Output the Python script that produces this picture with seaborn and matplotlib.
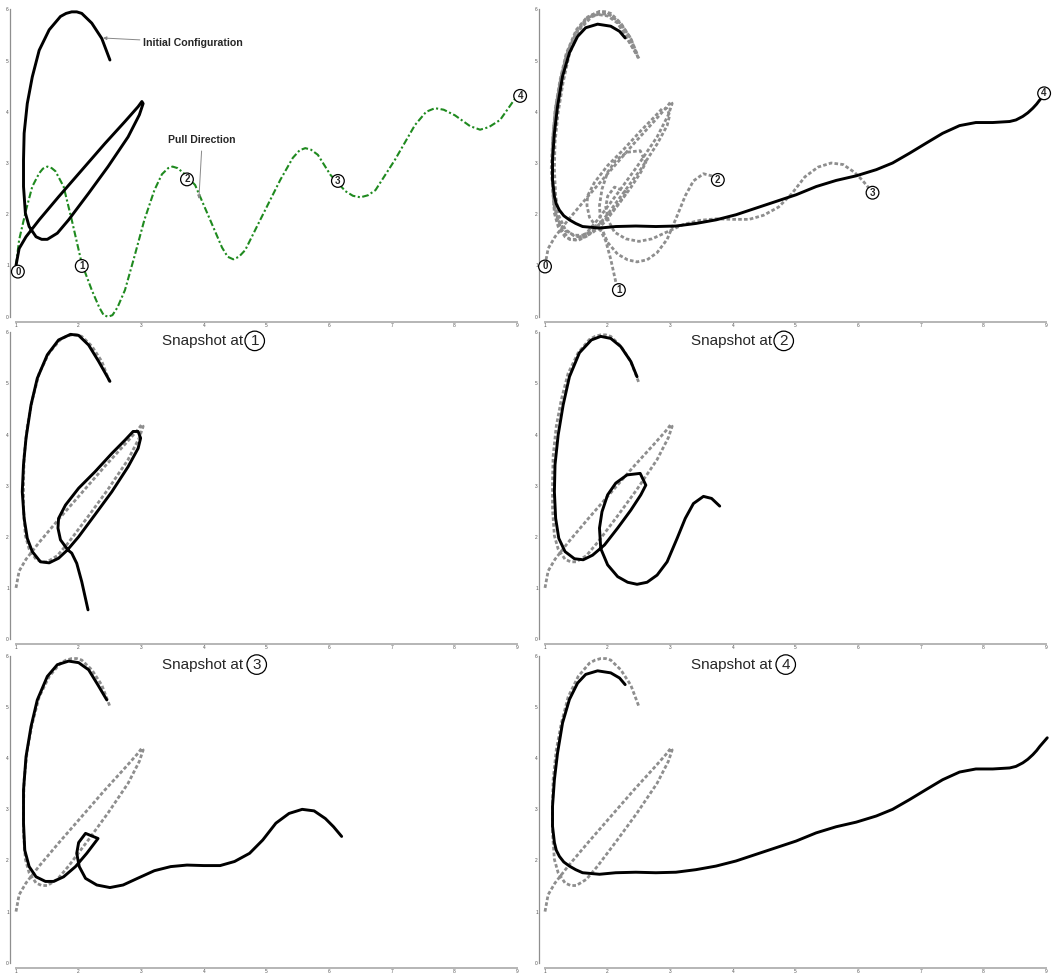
import numpy as np
import pandas as pd
import matplotlib
matplotlib.use("Agg")
import matplotlib.pyplot as plt
import seaborn as sns

sns.set_theme(style="white")
plt.rcParams["font.family"] = ["Liberation Sans", "DejaVu Sans"]

# ---------------- data ----------------
init_x = [1.00, 1.05, 1.16, 1.37, 1.68, 2.05, 2.42, 2.74, 2.95, 3.01, 3.03, 2.97, 2.79, 2.47, 2.16, 1.84, 1.66, 1.50,
          1.41, 1.32, 1.21, 1.15, 1.12, 1.12, 1.13, 1.18, 1.26, 1.37, 1.53, 1.71, 1.80, 1.89, 1.97, 2.05, 2.21, 2.37,
          2.50]
init_y = [1.00, 1.33, 1.56, 1.89, 2.34, 2.86, 3.38, 3.81, 4.10, 4.20, 4.16, 3.94, 3.51, 2.93, 2.41, 1.89, 1.63, 1.51,
          1.51, 1.56, 1.76, 2.02, 2.54, 3.06, 3.58, 4.16, 4.68, 5.20, 5.60, 5.86, 5.92, 5.95, 5.95, 5.92, 5.73, 5.43,
          5.01]

s1_x = [2.15, 2.05, 1.97, 1.89, 1.83, 1.71, 1.67, 1.68, 1.79, 2.00, 2.26, 2.53, 2.74, 2.87, 2.95, 2.99, 2.95, 2.79,
        2.53, 2.26, 2.00, 1.82, 1.68, 1.53, 1.39, 1.26, 1.18, 1.13, 1.10, 1.12, 1.16, 1.24, 1.34, 1.50, 1.68, 1.87,
        2.00, 2.16, 2.32, 2.50]
s1_y = [0.57, 1.12, 1.48, 1.68, 1.74, 1.94, 2.17, 2.36, 2.62, 2.95, 3.27, 3.63, 3.89, 4.06, 4.06, 3.93, 3.73, 3.37,
        2.88, 2.43, 2.00, 1.74, 1.58, 1.49, 1.51, 1.71, 1.97, 2.36, 2.88, 3.41, 3.93, 4.58, 5.10, 5.56, 5.85, 5.96,
        5.94, 5.75, 5.43, 5.04]

s2_x = [2.47, 2.37, 2.21, 2.05, 1.89, 1.74, 1.55, 1.39, 1.29, 1.21, 1.16, 1.15, 1.17, 1.22, 1.32, 1.47, 1.61, 1.76,
        1.95, 2.16, 2.37, 2.53, 2.61, 2.52, 2.31, 2.13, 2.00, 1.91, 1.87, 1.89, 2.00, 2.16, 2.32, 2.47, 2.63, 2.79,
        2.95, 3.11, 3.24, 3.37, 3.53, 3.66, 3.79]
s2_y = [5.13, 5.43, 5.72, 5.88, 5.92, 5.85, 5.60, 5.13, 4.58, 3.99, 3.41, 2.88, 2.36, 1.97, 1.71, 1.57, 1.55, 1.64,
        1.84, 2.17, 2.52, 2.82, 3.01, 3.24, 3.21, 3.05, 2.82, 2.49, 2.17, 1.77, 1.45, 1.22, 1.11, 1.07, 1.11, 1.25,
        1.51, 1.97, 2.36, 2.65, 2.79, 2.75, 2.60]

s3_x = [2.45, 2.31, 2.16, 2.00, 1.84, 1.66, 1.50, 1.34, 1.24, 1.16, 1.12, 1.12, 1.14, 1.21, 1.32, 1.47, 1.60, 1.76,
        1.95, 2.13, 2.31, 2.11, 2.00, 1.97, 2.01, 2.11, 2.29, 2.50, 2.71, 2.94, 3.21, 3.47, 3.73, 4.00, 4.26, 4.49,
        4.73, 4.94, 5.15, 5.36, 5.57, 5.76, 5.94, 6.07, 6.20]
s3_y = [5.14, 5.43, 5.73, 5.87, 5.90, 5.83, 5.60, 5.14, 4.62, 4.03, 3.38, 2.73, 2.20, 1.88, 1.68, 1.59, 1.59, 1.68,
        1.88, 2.14, 2.43, 2.53, 2.35, 2.14, 1.88, 1.65, 1.52, 1.47, 1.52, 1.65, 1.80, 1.88, 1.91, 1.90, 1.90, 1.98,
        2.14, 2.40, 2.73, 2.92, 3.00, 2.97, 2.82, 2.66, 2.47]

s4_x = [2.28, 2.19, 2.05, 1.84, 1.65, 1.52, 1.39, 1.28, 1.20, 1.15, 1.12, 1.12, 1.15, 1.18, 1.23, 1.30, 1.39, 1.49,
        1.60, 1.87, 2.13, 2.45, 2.77, 3.09, 3.41, 3.73, 4.05, 4.37, 4.69, 5.01, 5.33, 5.65, 5.97, 6.29, 6.55, 6.82,
        7.09, 7.35, 7.62, 7.88, 8.15, 8.42, 8.52, 8.63, 8.71, 8.79, 8.85, 8.90, 9.02]
s4_y = [5.44, 5.57, 5.67, 5.71, 5.64, 5.47, 5.15, 4.69, 4.10, 3.58, 3.06, 2.67, 2.35, 2.20, 2.08, 1.97, 1.89, 1.82,
        1.76, 1.73, 1.76, 1.77, 1.76, 1.77, 1.82, 1.89, 1.99, 2.12, 2.25, 2.38, 2.54, 2.66, 2.75, 2.87, 3.00, 3.19,
        3.39, 3.58, 3.73, 3.79, 3.79, 3.81, 3.84, 3.91, 3.98, 4.07, 4.15, 4.23, 4.40]

pull_x = [1.00, 1.05, 1.16, 1.26, 1.37, 1.43, 1.50, 1.57, 1.63, 1.76, 1.89, 2.05, 2.21, 2.33, 2.40, 2.47, 2.54, 2.62,
          2.74, 2.89, 3.05, 3.21, 3.33, 3.43, 3.50, 3.58, 3.68, 3.86, 4.10, 4.29, 4.38, 4.47, 4.56, 4.66, 4.90, 5.22,
          5.42, 5.53, 5.62, 5.71, 5.82, 6.02, 6.26, 6.38, 6.50, 6.62, 6.74, 7.05, 7.37, 7.55, 7.69, 7.83, 8.01, 8.25,
          8.41, 8.55, 8.73, 9.00]
pull_y = [1.00, 1.50, 2.08, 2.54, 2.80, 2.89, 2.93, 2.90, 2.84, 2.54, 1.89, 1.04, 0.52, 0.18, 0.03, 0.00, 0.03, 0.18,
          0.52, 1.17, 1.89, 2.47, 2.78, 2.90, 2.93, 2.90, 2.80, 2.57, 1.89, 1.35, 1.17, 1.12, 1.17, 1.30, 1.89, 2.67,
          3.10, 3.25, 3.29, 3.26, 3.16, 2.77, 2.45, 2.36, 2.33, 2.37, 2.47, 3.06, 3.74, 4.00, 4.07, 4.04, 3.93, 3.72,
          3.65, 3.70, 3.84, 4.31]

marker_names = ["0", "1", "2", "3", "4"]
path_mark_x = [1.03, 2.05, 3.73, 6.14, 9.05]
path_mark_y = [0.88, 0.99, 2.68, 2.65, 4.31]
end_mark_x = [1.00, 2.18, 3.76, 6.23, 8.97]
end_mark_y = [0.98, 0.52, 2.67, 2.42, 4.36]

x_ticks = [1, 2, 3, 4, 5, 6, 7, 8, 9]
y_ticks = [0, 1, 2, 3, 4, 5, 6]

snapshots = {"1": (s1_x, s1_y), "2": (s2_x, s2_y), "3": (s3_x, s3_y), "4": (s4_x, s4_y)}

# ---------------- figure ----------------
W, H = 1057, 975
fig = plt.figure(figsize=(W / 100, H / 100), dpi=100)

col_left = [16, 545]
row_y0 = [316.7, 639.0, 962.7]
row_y6 = [9.3, 332.3, 656.0]
axw = 501


def make_ax(col, row):
    l = col_left[col] / W
    b = 1 - row_y0[row] / H
    h = (row_y0[row] - row_y6[row]) / H
    ax = fig.add_axes([l, b, axw / W, h])
    ax.set_xlim(1, 9)
    ax.set_ylim(0, 6)
    ax.set_facecolor("white")
    for s in ["top", "right"]:
        ax.spines[s].set_visible(False)
    ax.spines["left"].set_position(("outward", 4.3))
    ax.spines["bottom"].set_position(("outward", 3.8))
    ax.spines["left"].set_color("#8f8f8f")
    ax.spines["left"].set_linewidth(0.9)
    ax.spines["bottom"].set_color("#b5b5b5")
    ax.spines["bottom"].set_linewidth(1.4)
    ax.set_xticks(x_ticks)
    ax.set_yticks(y_ticks)
    ax.tick_params(direction="in", length=3.6, width=0.7, color="#8f8f8f",
                   labelsize=3.5, labelcolor="#555555", pad=0.8)
    ax.set_xlabel("")
    ax.set_ylabel("")
    return ax


def draw(ax, xs, ys, color, lw, ls, z):
    df = pd.DataFrame({"x": xs, "y": ys})
    sns.lineplot(data=df, x="x", y="y", sort=False, estimator=None, ax=ax,
                 color=color, linewidth=lw, linestyle=ls, clip_on=False, zorder=z)
    ax.set_xlabel("")
    ax.set_ylabel("")


def circ_label(ax, x, y, s, size=7):
    ax.text(x, y, s, fontsize=size, fontweight="bold", ha="center", va="center", zorder=10,
            bbox=dict(boxstyle="circle,pad=0.14", fc="white", ec="black", lw=0.9))


BLACK = "#000000"
GRAY = "#8e8e8e"
DASH = (0, (1.3, 0.8))
GREEN = "#1f8a1f"

# ---- top-left: initial configuration + pull path
ax = make_ax(0, 0)
draw(ax, pull_x, pull_y, GREEN, 1.5, (0, (3.2, 1.2, 1.0, 1.2)), 2)
draw(ax, init_x, init_y, BLACK, 2.1, "-", 3)
for n, x, y in zip(marker_names, path_mark_x, path_mark_y):
    circ_label(ax, x, y, n)
ax.annotate("Initial Configuration", xy=(2.39, 5.44), xytext=(3.03, 5.35),
            fontsize=7.6, fontweight="bold", va="center", ha="left",
            arrowprops=dict(arrowstyle="-|>", color="#888888", lw=0.7, mutation_scale=5,
                            shrinkA=0, shrinkB=0))
ax.annotate("Pull Direction", xy=(3.92, 2.3), xytext=(3.43, 3.45),
            fontsize=7.5, fontweight="bold", va="center", ha="left",
            arrowprops=dict(arrowstyle="-|>", color="#888888", lw=0.7, mutation_scale=5,
                            shrinkA=2, shrinkB=0, relpos=(0.5, 0.0)))

# ---- top-right: all snapshots
ax = make_ax(1, 0)
draw(ax, init_x, init_y, GRAY, 2.0, DASH, 2)
for k in ["1", "2", "3"]:
    draw(ax, snapshots[k][0], snapshots[k][1], GRAY, 2.0, DASH, 2)
draw(ax, s4_x, s4_y, BLACK, 2.1, "-", 3)
for n, x, y in zip(marker_names, end_mark_x, end_mark_y):
    circ_label(ax, x, y, n)

# ---- snapshot panels
title_text = {"1": "Snapshot at", "2": "Snapshot at", "3": "Snapshot at", "4": "Snapshot at"}
title_circle_x = {"1": 0.4765, "2": 0.4765, "3": 0.4805, "4": 0.4805}
for k, (c, r) in zip(["1", "2", "3", "4"], [(0, 1), (1, 1), (0, 2), (1, 2)]):
    ax = make_ax(c, r)
    draw(ax, init_x, init_y, GRAY, 2.0, DASH, 2)
    draw(ax, snapshots[k][0], snapshots[k][1], BLACK, 2.1, "-", 3)
    ax.text(0.291, 0.972, title_text[k], transform=ax.transAxes, fontsize=11,
            ha="left", va="center")
    ax.text(title_circle_x[k], 0.972, k, transform=ax.transAxes, fontsize=11,
            ha="center", va="center",
            bbox=dict(boxstyle="circle,pad=0.18", fc="white", ec="black", lw=0.9))

fig.savefig("out.png", dpi=100)
